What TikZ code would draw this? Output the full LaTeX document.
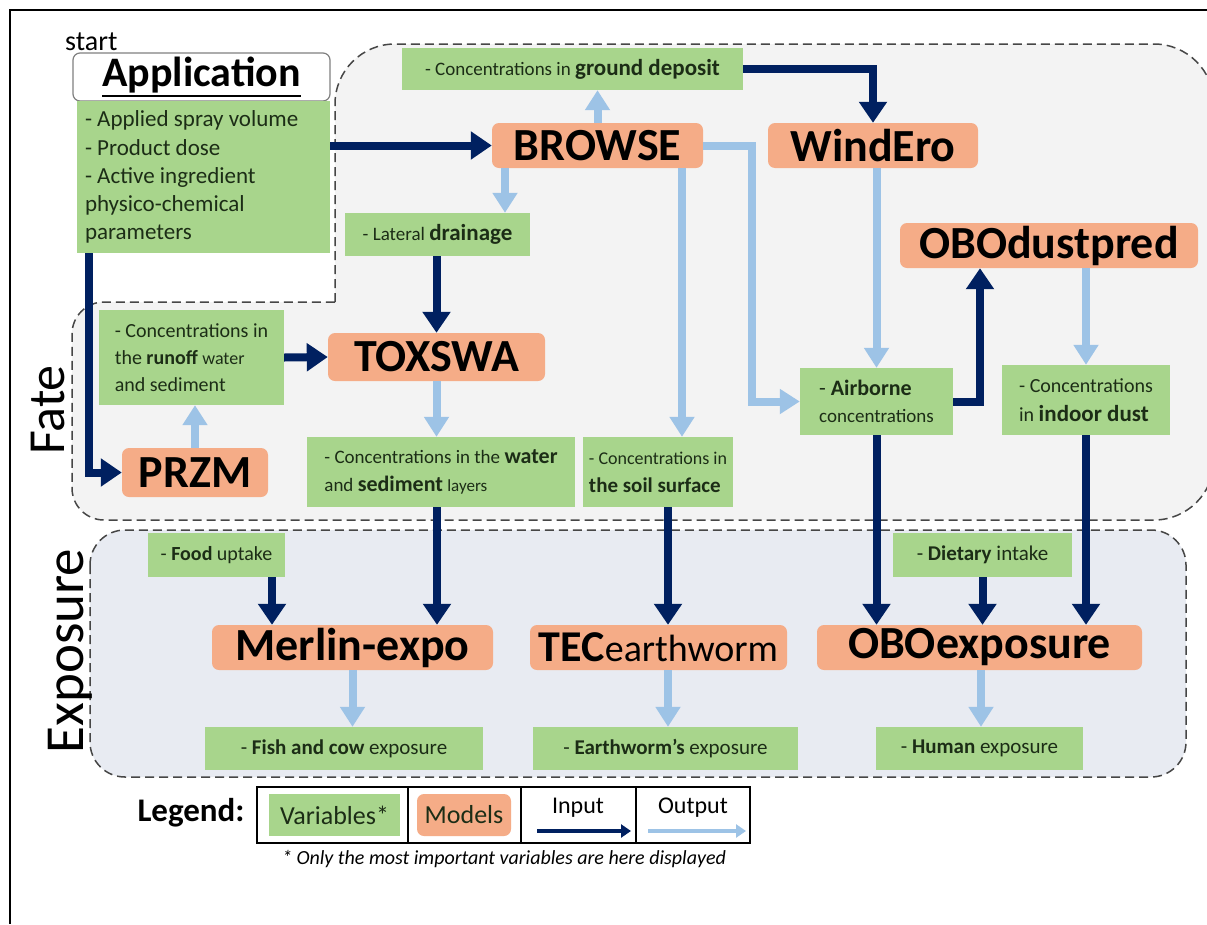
\documentclass[tikz,border=0pt]{standalone}
\usepackage{fontspec}
\setmainfont{Carlito}
\usetikzlibrary{arrows.meta}
\definecolor{varg}{RGB}{168,213,140}
\definecolor{modo}{RGB}{245,172,135}
\definecolor{inp}{RGB}{0,32,96}
\definecolor{outp}{RGB}{157,195,230}
\definecolor{fatebg}{RGB}{243,243,243}
\definecolor{expbg}{RGB}{232,235,242}
\definecolor{dashc}{RGB}{70,70,70}
\definecolor{vtext}{RGB}{28,45,22}
\newcommand{\fsz}[2]{\fontsize{#1}{#2}\selectfont}
\begin{document}
\begin{tikzpicture}[x=1pt,y=-1pt,
  var/.style={fill=varg, inner sep=0pt, text=vtext, align=center},
  model/.style={fill=modo, rounded corners=7pt, inner sep=0pt, font={\fsz{46}{50}\bfseries}},
  inarr/.style={draw=inp, line width=8pt, -{Triangle[width=27pt,length=21pt]}},
  outarr/.style={draw=outp, line width=8pt, -{Triangle[width=24pt,length=20pt]}},
  dashbox/.style={draw=dashc, line width=1.5pt, dash pattern=on 9pt off 5pt},
  lbl/.style={inner sep=0pt}
]
\useasboundingbox (0,0) rectangle (1207,924);
\fill[white] (0,0) rectangle (1207,924);
% frame
\draw[line width=2pt] (1207,10) -- (10,10) -- (10,924);

% regions
\draw[dashbox, fill=fatebg] (335,302) [rounded corners=60pt] -- (335,44) -- (1214,44) -- (1214,520) [rounded corners=32pt] -- (72,520) -- (72,302) [sharp corners] -- cycle;
\draw[dashbox, fill=expbg, rounded corners=35pt] (90,530) rectangle (1186,777);

\node[lbl, rotate=90, font={\fsz{52}{52}}] (fate) at (48,410) {Fate};
\node[lbl, rotate=90, font={\fsz{55}{55}}] (expo) at (70,651) {Exposure};

% application
\node[lbl, anchor=west, font={\fsz{28}{30}}] (start) at (65,42) {start};
\node[draw=gray, line width=1.2pt, rounded corners=7pt, fill=white, minimum width=257, minimum height=48, inner sep=0pt] (appt) at (201.5,77) {\fsz{42}{44}\bfseries\vtop{\hbox{Application}\kern2pt\hrule height 2.5pt}};
\node[var, anchor=north, minimum width=253, minimum height=152, align=flush left, text width=237, inner xsep=8pt, font={\fsz{23}{28.2}}] (appv) at (203.5,101) {- Applied spray volume\\- Product dose\\- Active ingredient\\physico-chemical\\parameters};

% models
\node[model, minimum width=211, minimum height=45] (brw) at (597.5,145.5) {BROWSE};
\node[model, minimum width=210, minimum height=45] (wind) at (873,145.5) {WindEro};
\node[model, minimum width=298, minimum height=45] (obod) at (1049,245.5) {OBOdustpred};
\node[model, minimum width=217, minimum height=48] (tox) at (436.5,357) {TOXSWA};
\node[model, minimum width=146, minimum height=49] (przm) at (195,472.5) {PRZM};
\node[model, minimum width=281, minimum height=45] (merl) at (352.5,647.5) {Merlin-expo};
\node[model, minimum width=257, minimum height=45] (tec) at (658.5,647.5) {{\fsz{44}{48}TEC}{\fsz{38}{48}\mdseries earthworm}};
\node[model, minimum width=325, minimum height=45] (oboe) at (979.5,647.5) {OBOexposure};

% variables
\node[var, minimum width=341, minimum height=42, font={\fsz{19}{24}}] (gd) at (572.5,69) {- Concentrations in {\fsz{23}{24}\bfseries ground deposit}};
\node[var, minimum width=185, minimum height=43, font={\fsz{19}{24}}] (lat) at (437.5,234.5) {- Lateral {\fsz{23}{24}\bfseries drainage}};
\node[var, minimum width=185, minimum height=95, align=left, font={\fsz{20}{27}}] (runoff) at (191.5,357.5) {- Concentrations in\\the {\bfseries runoff} {\fsz{18}{27}water}\\and sediment};
\node[var, minimum width=268, minimum height=70, align=left, font={\fsz{19}{28}}] (wat) at (441,472) {- Concentrations in the {\fsz{22}{28}\bfseries water}\\and {\fsz{22}{28}\bfseries sediment} {\fsz{17}{28}layers}};
\node[var, minimum width=150, minimum height=70, align=left, font={\fsz{18}{28}}] (soil) at (658,472) {- Concentrations in\\{\fsz{21}{28}\bfseries the soil surface}};
\node[var, minimum width=153, minimum height=67, align=left, font={\fsz{22}{27}}] (air) at (876.5,401.5) {- {\bfseries Airborne}\\{\fsz{19}{27}concentrations}};
\node[var, minimum width=168, minimum height=70, align=left, font={\fsz{20}{29}}] (indoor) at (1086,400) {- Concentrations\\in {\fsz{23}{29}\bfseries indoor dust}};
\node[var, minimum width=137, minimum height=44, font={\fsz{20}{24}}] (food) at (216.5,555) {- {\bfseries Food} uptake};
\node[var, minimum width=179, minimum height=44, font={\fsz{21}{24}}] (diet) at (982.5,555) {- {\bfseries Dietary} intake};
\node[var, minimum width=278, minimum height=43, font={\fsz{21}{24}}] (fish) at (344,748.5) {- {\bfseries Fish and cow} exposure};
\node[var, minimum width=265, minimum height=43, font={\fsz{21}{24}}] (ew) at (665.5,748.5) {- {\bfseries Earthworm's} exposure};
\node[var, minimum width=207, minimum height=43, font={\fsz{21}{24}}] (hum) at (979.5,748.5) {- {\bfseries Human} exposure};

% connectors
\draw[inarr] (appv.east |- brw.west) -- (brw.west);
\draw[inarr] ([xshift=12pt]appv.south west) |- (przm.west);
\draw[outarr] (brw.north) -- (brw.north |- gd.south);
\draw[inarr] (gd.east) -| (wind.north);
\draw[outarr] (brw.south -| 505,0) -- (lat.north -| 505,0);
\draw[inarr] (lat.south -| tox.north) -- (tox.north);
\draw[outarr] (brw.south -| 682,0) -- (soil.north -| 682,0);
\draw[outarr] (brw.east) -- ++(49,0) |- (air.west);
\draw[outarr] (wind.south -| air.north) -- (air.north);
\draw[inarr] (air.east) -| (obod.south -| 980,0);
\draw[outarr] (indoor.north |- obod.south) -- (indoor.north);
\draw[inarr] (runoff.east) -- (tox.west);
\draw[outarr] (przm.north) -- (przm.north |- runoff.south);
\draw[outarr] (tox.south) -- (tox.south |- wat.north);
\draw[inarr] (wat.south -| 437,0) -- (merl.north -| 437,0);
\draw[inarr] (food.south -| 272,0) -- (merl.north -| 272,0);
\draw[outarr] (merl.south) -- (merl.south |- fish.north);
\draw[inarr] (soil.south -| 668,0) -- (tec.north -| 668,0);
\draw[outarr] (tec.south -| 668,0) -- (ew.north -| 668,0);
\draw[inarr] (air.south) -- (air.south |- oboe.north);
\draw[inarr] (diet.south) -- (diet.south |- oboe.north);
\draw[inarr] (indoor.south) -- (indoor.south |- oboe.north);
\draw[outarr] (oboe.south -| 981,0) -- (hum.north -| 981,0);

% legend
\node[lbl, font={\fsz{33}{36}\bfseries}] (leg) at (191,813) {Legend:};
\node[draw, line width=1.5pt, minimum width=493, minimum height=56, inner sep=0pt] (legbox) at (503.5,815) {};
\draw[line width=1.5pt] (legbox.north -| 408,0) -- (legbox.south -| 408,0);
\draw[line width=1.5pt] (legbox.north -| 521,0) -- (legbox.south -| 521,0);
\draw[line width=1.5pt] (legbox.north -| 636,0) -- (legbox.south -| 636,0);
\node[var, minimum width=131, minimum height=42, font={\fsz{26}{28}}] (lv) at (334.5,815) {Variables*};
\node[model, minimum width=94, minimum height=42, font={\fsz{26}{28}}, text=vtext] (lm) at (464,815) {Models};
\node[lbl, font={\fsz{24}{26}}] (li) at (578,808) {Input};
\node[lbl, font={\fsz{24}{26}}] (lo) at (693,808) {Output};
\coordinate (ia) at (537,831);
\coordinate (ib) at (631,831);
\coordinate (oa) at (648,831);
\coordinate (ob) at (746,831);
\draw[draw=inp, line width=4pt, -{Triangle[width=13pt,length=10pt]}] (ia) -- (ib);
\draw[draw=outp, line width=4pt, -{Triangle[width=13pt,length=10pt]}] (oa) -- (ob);
\node[lbl, font={\fsz{20}{22}\itshape}] (foot) at (504,859) {* Only the most important variables are here displayed};
\end{tikzpicture}
\end{document}
